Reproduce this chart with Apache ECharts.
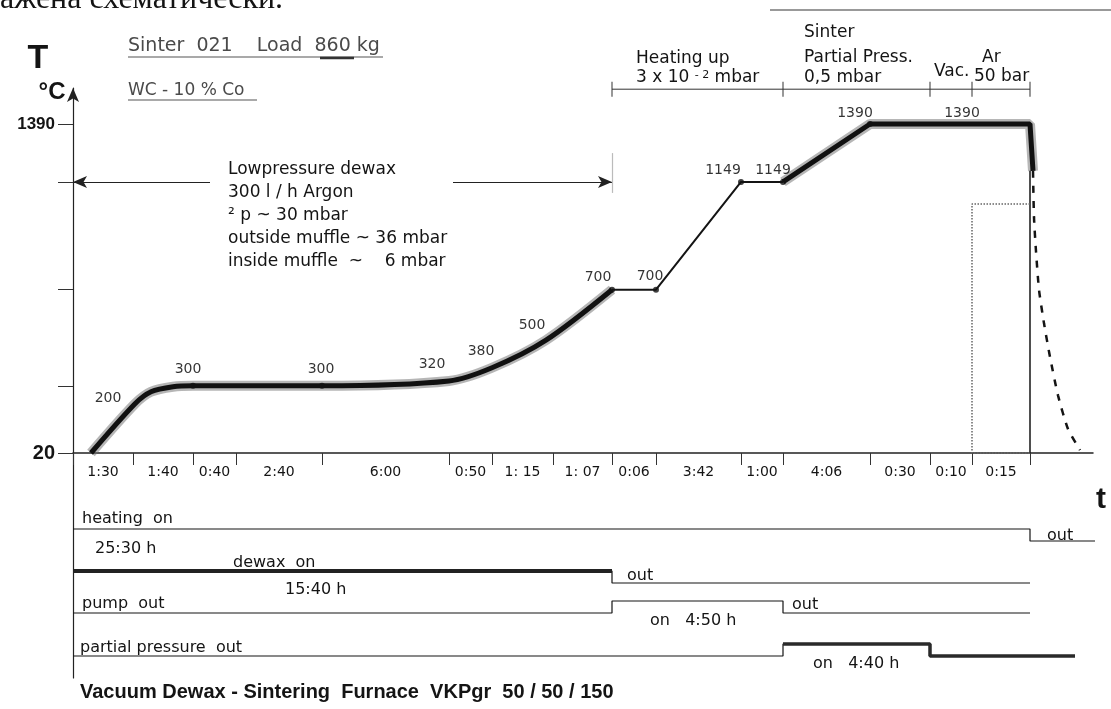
<!DOCTYPE html>
<html>
<head>
<meta charset="utf-8">
<title>Vacuum Dewax - Sintering Furnace</title>
<script src="https://cdn.jsdelivr.net/npm/echarts@6/dist/echarts.min.js"></script>
<style>
  html, body { margin: 0; padding: 0; background: #fff; }
  #chart { width: 1111px; height: 709px; }
</style>
</head>
<body>
<div id="chart"></div>
<script>
// schematic time axis: stage boundaries (not to scale) and stage durations
const durations = ['1:30', '1:40', '0:40', '2:40', '6:00', '0:50', '1: 15', '1: 07', '0:06', '3:42', '1:00', '4:06', '0:30', '0:10', '0:15']
const stageBounds = [0, 60, 120, 163, 249, 376, 419, 480, 539, 583, 668, 710, 797, 857, 899, 957]

const yTicks = [20, 300, 700, 1149, 1390]
const yLabels = [20, 1390]

// temperature program [time, °C]
const dewaxCurve = [[18, 20], [62, 225], [78, 275], [100, 296], [120, 300], [249, 300], [376, 320], [419, 375], [473, 490], [539, 700]]
const heatUpCurve = [[539, 700], [583, 700], [668, 1149], [710, 1149]]
const sinterCurve = [[710, 1149], [797, 1390], [957, 1390], [960, 1195]]
const quenchLine = [[957, 1195], [957, 20]]
const coolingCurve = [[960, 1195], [961, 1000], [963, 860], [966, 700], [971, 560], [977, 420], [985, 260], [995, 120], [1007, 32]]
const arBox = [[957, 1057], [899, 1057], [899, 20], [957, 20]]

const markedPoints = [[120, 300], [249, 300], [539, 700], [583, 700], [668, 1149], [710, 1149], [797, 1390]]
const labelledPoints = [[56, 200], [120, 300], [249, 300], [376, 320], [419, 380], [473, 500], [539, 700], [583, 700], [668, 1149], [710, 1149], [797, 1390], [892, 1390]]

// pressure phases on top
const phaseBounds = [539, 710, 857, 899, 957]
const phaseLevel = 1535

// lowpressure dewax span
const dewaxSpan = [0, 137, 380, 539]
const dewaxLevel = 1149

// switching lanes [time, state]
const heatingSteps = [[0, 1], [957, 1], [957, 0], [1027, 0]]
const dewaxSteps = [[0, 1], [539, 1], [539, 0], [957, 0]]
const pumpSteps = [[0, 0], [539, 0], [539, 1], [710, 1], [710, 0], [957, 0]]
const partialSteps = [[0, 0], [710, 0], [710, 1], [857, 1], [857, 0], [1002, 0]]

// ---- layout / styles
const sans = '"DejaVu Sans", sans-serif'
const ink = '#141414'
const laneOut = [88, 130, 160, 203]
const onLift = 12
const labelOffsets = [[-21, -11], [-5, -16], [-1, -16], [-17, -17], [-11, -15], [-14, -12], [-14, -12], [-6, -13], [-18, -12], [-10, -12], [-15, -11], [-3, -11]]

const mids = stageBounds.slice(1).map((b, i) => (stageBounds[i] + b) / 2)
const durationAt = v => {
  let best = 0
  mids.forEach((m, i) => { if (Math.abs(m - v) < Math.abs(mids[best] - v)) best = i })
  return durations[best]
}

const laneData = (steps, lane) => steps.map(([t, s]) => [t, laneOut[lane] - s * onLift])

const line = (data, style, extra) => Object.assign({
  type: 'line',
  data,
  symbol: 'none',
  silent: true,
  clip: false,
  animation: false,
  lineStyle: Object.assign({ color: ink, width: 1.5 }, style)
}, extra)

const laneLine = (data, style) => line(data, style, { xAxisIndex: 1, yAxisIndex: 1 })

const txt = (x, y, text, font, extra) => ({
  type: 'text',
  x,
  y,
  silent: true,
  style: Object.assign({ text, font: font || ('16px ' + sans), fill: ink, align: 'left', verticalAlign: 'middle' }, extra)
})

const rule = (x1, y1, x2, y2, width, color) => ({
  type: 'line',
  silent: true,
  shape: { x1, y1, x2, y2 },
  style: { stroke: color || ink, lineWidth: width || 1 }
})

const option = {
  animation: false,
  backgroundColor: '#fff',
  grid: [
    { left: 73, right: 18, top: 88, bottom: 256, outerBoundsMode: 'none' },
    { left: 73, right: 18, top: 453, bottom: 31, outerBoundsMode: 'none' }
  ],
  xAxis: [
    {
      type: 'value',
      gridIndex: 0,
      min: 0,
      max: 1020,
      splitLine: { show: false },
      axisLine: { lineStyle: { color: '#222', width: 1.5 } },
      axisTick: { customValues: stageBounds, length: 12, lineStyle: { color: '#333', width: 1 } },
      axisLabel: {
        customValues: mids,
        margin: 12,
        formatter: durationAt,
        color: ink,
        fontFamily: sans,
        fontSize: 14
      }
    },
    { type: 'value', gridIndex: 1, min: 0, max: 1020, show: false }
  ],
  yAxis: [
    {
      type: 'value',
      gridIndex: 0,
      min: 20,
      max: 1540,
      splitLine: { show: false },
      axisLine: { show: true, symbol: ['none', 'arrow'], symbolSize: [9, 14], lineStyle: { color: '#222', width: 1.2 } },
      axisTick: { show: true, customValues: yTicks, length: 15, lineStyle: { color: '#333' } },
      axisLabel: {
        customValues: yLabels,
        margin: 18,
        formatter: v => (v === 20 ? '{b|20}' : '{a|' + v + '}'),
        rich: {
          a: { fontFamily: '"Liberation Sans", sans-serif', fontWeight: 'bold', fontSize: 17, color: ink },
          b: { fontFamily: '"Liberation Sans", sans-serif', fontWeight: 'bold', fontSize: 20, color: ink }
        }
      }
    },
    {
      type: 'value',
      gridIndex: 1,
      min: 0,
      max: 225,
      inverse: true,
      splitLine: { show: false },
      axisTick: { show: false },
      axisLabel: { show: false },
      axisLine: { show: true, lineStyle: { color: '#222', width: 1.2 } }
    }
  ],
  series: [
    line(dewaxCurve, { width: 10, color: 'rgba(110,110,110,0.5)' }, { smooth: 0.3 }),
    line(dewaxCurve, { width: 5, color: '#111' }, { smooth: 0.3 }),
    line(heatUpCurve, { width: 2 }),
    line(sinterCurve, { width: 10, color: 'rgba(110,110,110,0.5)' }),
    line(sinterCurve, { width: 5, color: '#111' }),
    line(quenchLine, { width: 1.5 }),
    line(coolingCurve, { width: 2.5, type: [7, 8] }, { smooth: 0.2 }),
    line(arBox, { width: 1.5, type: 'dotted', color: '#666' }),
    line(phaseBounds.map(t => [t, phaseLevel]), { width: 1, color: '#333' }, {
      symbol: 'rect',
      symbolSize: [1, 15],
      showSymbol: true,
      itemStyle: { color: '#333' },
      markLine: {
        silent: true,
        animation: false,
        symbol: ['none', 'none'],
        symbolSize: [9, 14],
        label: { show: false },
        lineStyle: { color: '#222', width: 1.2, type: 'solid' },
        data: [
          [{ coord: [dewaxSpan[0], dewaxLevel], symbol: 'arrow' }, { coord: [dewaxSpan[1], dewaxLevel], symbol: 'none' }],
          [{ coord: [dewaxSpan[2], dewaxLevel], symbol: 'none' }, { coord: [dewaxSpan[3], dewaxLevel], symbol: 'arrow' }],
          [{ coord: [dewaxSpan[3], 1269], symbol: 'none' }, { coord: [dewaxSpan[3], 1103], symbol: 'none', lineStyle: { color: '#bbb' } }]
        ]
      }
    }),
    {
      type: 'scatter',
      data: markedPoints,
      symbolSize: 6,
      silent: true,
      itemStyle: { color: '#111' },
      z: 4
    },
    {
      type: 'scatter',
      data: labelledPoints.map((p, i) => ({
        value: p,
        label: { offset: labelOffsets[i] }
      })),
      symbolSize: 1,
      silent: true,
      itemStyle: { color: 'rgba(0,0,0,0)' },
      label: {
        show: true,
        position: 'inside',
        formatter: p => String(p.value[1]),
        color: '#000',
        fontFamily: sans,
        fontSize: 14
      },
      z: 5
    },
    laneLine(laneData(heatingSteps, 0), { width: 1.2 }),
    laneLine(laneData(dewaxSteps, 1), { width: 1.2 }),
    laneLine(laneData(dewaxSteps.slice(0, 2), 1), { width: 4, color: '#222' }),
    laneLine(laneData(pumpSteps, 2), { width: 1.2 }),
    laneLine(laneData(partialSteps, 3), { width: 1.2 }),
    laneLine(laneData(partialSteps.slice(2), 3), { width: 3.5, color: '#2a2a2a' })
  ],
  graphic: [
    txt(0, 0, 'ажена схематически.', '32px "Liberation Serif", serif'),
    rule(770, 10, 1111, 10, 1.5, '#777'),
    txt(38, 59, 'T', 'bold 34px "Liberation Sans", sans-serif', { align: 'center' }),
    txt(52, 92, '°C', 'bold 24px "Liberation Sans", sans-serif', { align: 'center' }),
    txt(128, 46, 'Sinter  021    Load  860 kg', '19px ' + sans, { fill: '#4a4a4a' }),
    rule(128, 57, 383, 57, 1.2, '#555'),
    rule(320, 58, 354, 58, 2.5, '#333'),
    txt(128, 91, 'WC - 10 % Co', '17px ' + sans, { fill: '#4a4a4a' }),
    rule(128, 100, 257, 100, 1.2, '#555'),
    txt(636, 59, 'Heating up', '17px ' + sans),
    txt(636, 78, '3 x 10 {sup|- 2} mbar', '17px ' + sans, {
      rich: { sup: { fontSize: 11, verticalAlign: 'top', fontFamily: sans, fill: ink } }
    }),
    txt(804, 33, 'Sinter', '17px ' + sans),
    txt(804, 58, 'Partial Press.', '17px ' + sans),
    txt(804, 78, '0,5 mbar', '17px ' + sans),
    txt(982, 58, 'Ar', '17px ' + sans),
    txt(934, 72, 'Vac.', '17px ' + sans),
    txt(974, 77, '50 bar', '17px ' + sans),
    txt(228, 170, 'Lowpressure dewax\n300 l / h Argon\n² p ~ 30 mbar\noutside muffle ~ 36 mbar\ninside muffle  ~    6 mbar', '17px ' + sans, { lineHeight: 23, verticalAlign: 'top', y: -12 }),
    txt(1101, 500, 't', 'bold 30px "Liberation Sans", sans-serif', { align: 'center' }),
    txt(82, 519, 'heating  on', '16px ' + sans),
    txt(95, 549, '25:30 h', '16px ' + sans),
    txt(233, 563, 'dewax  on', '16px ' + sans),
    txt(285, 590, '15:40 h', '16px ' + sans),
    txt(627, 576, 'out', '16px ' + sans),
    txt(82, 604, 'pump  out', '16px ' + sans),
    txt(650, 621, 'on   4:50 h', '16px ' + sans),
    txt(792, 605, 'out', '16px ' + sans),
    txt(80, 648, 'partial pressure  out', '16px ' + sans),
    txt(813, 664, 'on   4:40 h', '16px ' + sans),
    txt(1047, 536, 'out', '16px ' + sans),
    txt(80, 692, 'Vacuum Dewax - Sintering  Furnace  VKPgr  50 / 50 / 150', 'bold 20px "Liberation Sans", sans-serif')
  ]
}

const chart = echarts.init(document.getElementById('chart'))
chart.setOption(option)
</script>
</body>
</html>
